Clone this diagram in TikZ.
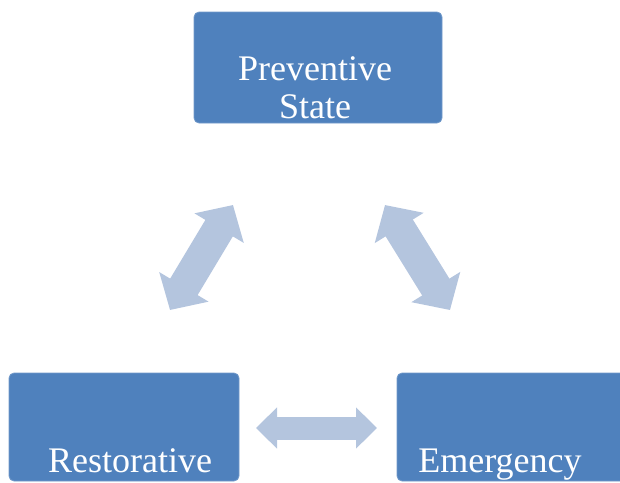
\documentclass[tikz,border=0pt]{standalone}
\usepackage{fontspec}
\setmainfont{Liberation Serif}
\usetikzlibrary{arrows.meta}

\definecolor{boxblue}{RGB}{79,129,189}
\definecolor{linkblue}{RGB}{180,197,222}

\tikzset{
  statebox/.style={fill=boxblue, draw=boxblue!80!white, line width=0.8pt, rounded corners=5pt, inner sep=0pt},
  statetext/.style={text=white, font=\fontsize{36}{38}\selectfont, align=center, anchor=base},
  statelink/.style={linkblue, line width=23pt,
    {Triangle[length=21pt,width=40pt]}-{Triangle[length=21pt,width=40pt]}},
  widelink/.style={statelink, line width=32pt,
    {Triangle[length=27pt,width=56pt]}-{Triangle[length=27pt,width=56pt]}},
}

\begin{document}
\begin{tikzpicture}[x=1pt,y=-1pt]
\useasboundingbox (0,0) rectangle (620,482);
\clip (0,0) rectangle (620,482);

% the three states
\node[statebox, minimum width=248pt, minimum height=111pt] (prev) at (318,67.5) {};
\node[statebox, minimum width=230pt, minimum height=108pt] (rest) at (124,427) {};
\node[statebox, minimum width=230pt, minimum height=108pt] (emer) at (512,427) {};

\node[statetext] (prevtext) at (315,118) {Preventive\\State};
\node[statetext] (resttext) at (130,472) {Restorative};
\node[statetext] (emertext) at (500,472) {Emergency};

% ends of the double arrows
\coordinate (l1) at (170,310);
\coordinate (l2) at (233,205);
\coordinate (r1) at (385,205);
\coordinate (r2) at (450,310);
\coordinate (b1) at (256,428);
\coordinate (b2) at (377,428);

\draw[widelink] (l1) -- (l2);
\draw[widelink] (r1) -- (r2);
\draw[statelink] (b1) -- (b2);
\end{tikzpicture}
\end{document}
